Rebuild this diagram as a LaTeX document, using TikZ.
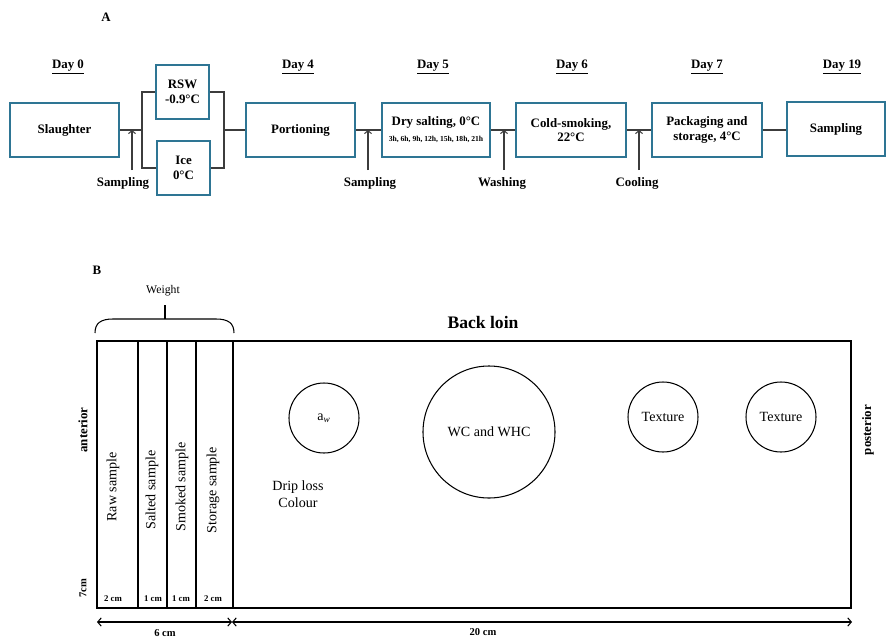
\documentclass[tikz,border=0pt]{standalone}
\usepackage{fontspec}
\setmainfont{Liberation Serif}
\definecolor{flowblue}{RGB}{46,117,148}
\definecolor{linegray}{RGB}{60,60,60}
\usepackage{tikz}
\usetikzlibrary{calc,positioning,arrows.meta}

\begin{document}
\begin{tikzpicture}[x=0.03cm,y=-0.03cm,
    stepbox/.style={rectangle,draw=flowblue,line width=1.3pt,inner sep=1pt,
                    minimum width=3.27cm,minimum height=1.62cm,
                    align=center,font=\fontsize{11}{12.5}\selectfont\bfseries},
    chillbox/.style={stepbox,minimum width=1.59cm},
    day/.style={font=\fontsize{11}{12}\selectfont\bfseries},
    flow/.style={draw=linegray,line width=0.9pt},
    arr/.style={flow,-{Straight Barb[length=2.5pt,width=6pt]}},
    lbl/.style={font=\fontsize{11}{12}\selectfont\bfseries},
    sample/.style={rotate=90,font=\fontsize{12}{13}\selectfont},
    tiny/.style={font=\fontsize{7.5}{8}\selectfont\bfseries},
    spot/.style={circle,draw,line width=0.9pt,inner sep=0pt,
                 font=\fontsize{12}{13}\selectfont},
    dim/.style={line width=0.9pt,{Straight Barb[length=3pt,width=7pt]}-{Straight Barb[length=3pt,width=7pt]}}]
  \useasboundingbox (0,0) rectangle (886,637);

  % A: process flow
  \node[font=\fontsize{11}{12}\selectfont\bfseries] (lblA) at (106,17) {A};
  \node[day] (d0) at (68,67) {\underline{Day 0}};
  \node[day] (d4) at (298,67) {\underline{Day 4}};
  \node[day] (d5) at (433,67) {\underline{Day 5}};
  \node[day] (d6) at (572,67) {\underline{Day 6}};
  \node[day] (d7) at (707,67) {\underline{Day 7}};
  \node[day] (d19) at (842,67) {\underline{Day 19}};

  \node[stepbox] (slaughter) at (64.5,130) {Slaughter};
  \node[chillbox] (rsw) at (182.5,92) {RSW\\-0.9°C};
  \node[chillbox] (ice) at (183.5,168) {Ice\\0°C};
  \node[stepbox] (portion) at (300.5,130) {Portioning};
  \node[stepbox,minimum width=3.24cm] (salt) at (436,130)
    {Dry salting, 0°C\\[1pt]{\fontsize{6.5}{7}\selectfont 3h, 6h, 9h, 12h, 15h, 18h, 21h}};
  \node[stepbox,minimum width=3.3cm] (smoke) at (571,130) {Cold-smoking,\\22°C};
  \node[stepbox,minimum width=3.3cm] (pack) at (707,130) {Packaging and\\storage, 4°C};
  \node[stepbox,minimum width=2.94cm] (final) at (836,129) {Sampling};

  \coordinate (jl) at (142,130);
  \coordinate (jr) at (224,130);
  \draw[flow] (slaughter.east) -- (jl);
  \draw[flow] (rsw.west) -| (jl) |- (ice.west);
  \draw[flow] (rsw.east) -| (jr) |- (ice.east);
  \draw[flow] (jr) -- (portion.west);
  \draw[flow] (portion.east) -- (salt.west);
  \draw[flow] (salt.east) -- (smoke.west);
  \draw[flow] (smoke.east) -- (pack.west);
  \draw[flow] (pack.east) -- (pack.east -| final.west);

  \foreach \x/\tx/\txt/\n in {132/123/Sampling/1,368/370/Sampling/2,504/502/Washing/3,639/637/Cooling/4}{
    \coordinate (foot\n) at (\x,170);
    \coordinate (tip\n) at (\x,130);
    \draw[arr] (foot\n) -- (tip\n);
    \node[lbl] (note\n) at (\tx,183) {\txt};
  }

  % B: cutting plan of the back loin
  \node[font=\fontsize{11}{12}\selectfont\bfseries] (lblB) at (97,270) {B};
  \node[font=\fontsize{10}{11}\selectfont] (weight) at (163,291) {Weight};
  \draw[line width=0.9pt] (95,333) .. controls (95,323) and (101,319) .. (113,319)
    -- (216,319) .. controls (228,319) and (234,323) .. (234,333);
  \coordinate (brtop) at (165,305);
  \coordinate (brmid) at (165,319);
  \draw[line width=0.9pt] (brmid) -- (brtop);
  \node[font=\fontsize{15}{16}\selectfont\bfseries] (loin) at (483,322) {Back loin};

  \coordinate (nw) at (97,341);
  \coordinate (se) at (851,608);
  \draw[line width=1pt] (nw) rectangle (se);
  \foreach \x in {138,167,196,233}
    \draw[line width=1pt] (\x,341) -- (\x,608);

  \node[sample] (raw) at (113,487) {Raw sample};
  \node[sample] (salted) at (152,490) {Salted sample};
  \node[sample] (smoked) at (182,487) {Smoked sample};
  \node[sample] (storage) at (213,490) {Storage sample};
  \node[tiny] (w1) at (113,599) {2 cm};
  \node[tiny] (w2) at (153,599) {1 cm};
  \node[tiny] (w3) at (181,599) {1 cm};
  \node[tiny] (w4) at (213,599) {2 cm};

  \node[spot,minimum size=2.1cm] (aw) at (324,418) {a\textsubscript{\textit{w}}};
  \node[spot,minimum size=3.96cm] (wc) at (489,432) {WC and WHC};
  \node[spot,minimum size=2.1cm] (tex1) at (663,417) {Texture};
  \node[spot,minimum size=2.1cm] (tex2) at (781,417) {Texture};
  \node[align=center,font=\fontsize{12}{14}\selectfont] (drip) at (298,494) {Drip loss\\Colour};

  \node[rotate=90,font=\fontsize{11}{12}\selectfont\bfseries] (ant) at (83,430) {anterior};
  \node[rotate=90,font=\fontsize{11}{12}\selectfont\bfseries] (post) at (868,430) {posterior};
  \node[rotate=90,font=\fontsize{9}{10}\selectfont\bfseries] (height) at (83,588) {7cm};

  \coordinate (m0) at (97,622);
  \coordinate (m1) at (232,622);
  \coordinate (m2) at (852,622);
  \draw[dim] (m0) -- (m1);
  \draw[dim] (m1) -- (m2);
  \node[font=\fontsize{9}{10}\selectfont\bfseries] (six) at (165,633) {6 cm};
  \node[font=\fontsize{9}{10}\selectfont\bfseries] (twenty) at (483,632) {20 cm};
\end{tikzpicture}
\end{document}
